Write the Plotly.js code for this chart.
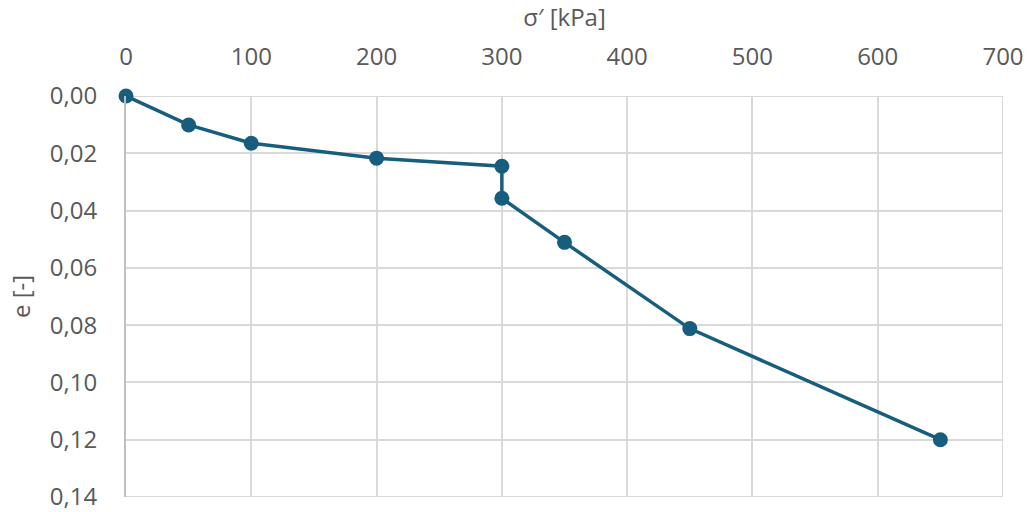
<!DOCTYPE html>
<html>
<head>
<meta charset="utf-8">
<script src="https://cdn.plot.ly/plotly-3.0.1.min.js"></script>
<style>html,body{margin:0;padding:0;background:#fff;}#chart{width:1032px;height:512px;}</style>
</head>
<body>
<div id="chart"></div>
<script>
const stress = [0, 50, 100, 200, 300, 300, 350, 450, 650];
const voidChange = [0.000, 0.0101, 0.0165, 0.0217, 0.0245, 0.0357, 0.0511, 0.0812, 0.1200];
const xTicks = [0, 100, 200, 300, 400, 500, 600, 700];
const yTicks = [0, 0.02, 0.04, 0.06, 0.08, 0.10, 0.12, 0.14];

const trace = {
  x: stress, y: voidChange, type: 'scatter', mode: 'lines+markers',
  line: {color: '#175E7E', width: 3.5},
  marker: {color: '#175E7E', size: 15},
  cliponaxis: false, showlegend: false, hoverinfo: 'none'
};

const font = {family: 'Open Sans, Liberation Sans, sans-serif', size: 24, color: '#595959'};

const layout = {
  width: 1032, height: 512,
  margin: {l: 126, r: 29, t: 96, b: 15},
  paper_bgcolor: '#fff', plot_bgcolor: '#fff',
  font: font,
  xaxis: {
    side: 'top', range: [0, 700], tickvals: xTicks, ticktext: xTicks.map(String),
    showgrid: true, gridcolor: '#d9d9d9', gridwidth: 2,
    zeroline: false, showline: false, ticks: '', ticklen: 0,
    tickfont: font, ticklabelstandoff: 25, ticklabeloverflow: 'allow',
    title: {text: 'σ′ [kPa]', font: font, standoff: 7}
  },
  yaxis: {
    range: [0.14, 0], tickvals: yTicks, ticktext: yTicks.map(v => v.toFixed(2).replace('.', ',')),
    showgrid: true, gridcolor: '#d9d9d9', gridwidth: 2,
    zeroline: false, showline: true, linecolor: '#bfbfbf', linewidth: 2, mirror: false,
    ticks: '', tickfont: font, ticklabelstandoff: 22, ticklabeloverflow: 'allow',
    title: {text: 'e [-]', font: font, standoff: 12}
  },
  shapes: [
    {type: 'line', xref: 'x', yref: 'paper', x0: 700, x1: 700, y0: 0, y1: 1, line: {color: '#d9d9d9', width: 2}},
    {type: 'line', xref: 'paper', yref: 'y', x0: 0, x1: 1, y0: 0, y1: 0, line: {color: '#d9d9d9', width: 2}, layer: 'below'},
    {type: 'line', xref: 'paper', yref: 'y', x0: 0, x1: 1, y0: 0.14, y1: 0.14, line: {color: '#d9d9d9', width: 2}, layer: 'below'}
  ]
};

Plotly.newPlot('chart', [trace], layout, {staticPlot: true, displayModeBar: false});
</script>
</body>
</html>
